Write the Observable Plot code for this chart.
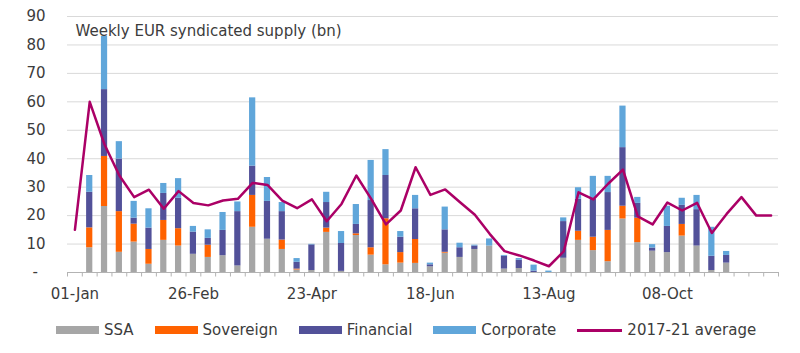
<!DOCTYPE html>
<html><head><meta charset="utf-8">
<script src="https://cdn.jsdelivr.net/npm/d3@7"></script>
<script src="https://cdn.jsdelivr.net/npm/@observablehq/plot@0.6"></script>
<style>
body{margin:0;background:#fff;font-family:"DejaVu Sans",sans-serif;}
#wrap{position:relative;width:800px;height:353px;overflow:hidden;}
#legend{position:absolute;left:56px;top:319px;height:22px;display:flex;align-items:center;font-size:15px;color:#3c3c3c;white-space:nowrap;}
.item{display:flex;align-items:center;margin-right:21px;}
.sw{width:43px;height:8px;margin-right:5px;}
.ln{width:45px;height:3px;margin-right:5px;}
</style></head><body><div id="wrap"><div id="chart"></div><div id="legend"></div></div>
<script>
const title = "Weekly EUR syndicated supply (bn)";
const weeks = ["01-Jan","08-Jan","15-Jan","22-Jan","29-Jan","05-Feb","12-Feb","19-Feb","26-Feb",
  "05-Mar","12-Mar","19-Mar","26-Mar","02-Apr","09-Apr","16-Apr","23-Apr","30-Apr",
  "07-May","14-May","21-May","28-May","04-Jun","11-Jun","18-Jun","25-Jun",
  "02-Jul","09-Jul","16-Jul","23-Jul","30-Jul","06-Aug","13-Aug","20-Aug","27-Aug",
  "03-Sep","10-Sep","17-Sep","24-Sep","01-Oct","08-Oct","15-Oct","22-Oct","29-Oct",
  "05-Nov","12-Nov","19-Nov","26-Nov"];
const xTickLabels = ["01-Jan","26-Feb","23-Apr","18-Jun","13-Aug","08-Oct"];
const yTicks = [0,10,20,30,40,50,60,70,80,90];
const series = ["SSA","Sovereign","Financial","Corporate"];
const colors = ["#A6A6A6","#FF6200","#525199","#60A6DA"];
const lineName = "2017-21 average";
const lineColor = "#AB0066";

const ssa  = [0,8.7,23.2,7.1,10.7,2.9,11.3,9.3,6.4,5.3,5.9,2.3,15.9,11.7,8.1,0.9,0.7,14.1,0.4,13.0,6.1,2.7,3.3,3.2,2.0,6.8,5.3,8.1,9.3,1.2,1.4,0,0,5.0,11.3,7.7,3.8,18.8,10.5,7.5,7.0,12.8,9.3,0.7,3.3,0,0,0];
const sov  = [0,7.0,17.6,14.3,6.3,5.2,7.0,6.1,0,4.3,0,0,11.2,0,3.3,0.3,0,1.5,0,0.6,2.6,16.2,3.7,8.4,0,0.3,0,0,0,0,0,0,0,0,3.2,4.7,11.0,4.5,8.6,0,0,4.1,0,0,0,0,0,0];
const fin  = [0,12.5,23.5,18.5,2.1,7.5,9.5,10.7,7.8,2.4,8.9,19.1,10.3,13.3,10.0,2.4,9.0,9.0,9.8,3.3,16.6,15.2,5.4,10.8,0.7,7.9,3.4,1.2,0,4.5,2.9,0.5,0,12.9,11.3,13.4,13.3,20.6,5.2,1.1,9.2,6.7,12.8,5.0,2.7,0,0,0];
const corp = [0,5.9,18.7,6.1,5.9,6.8,3.5,6.9,2.0,3.0,6.3,3.4,24.0,8.4,3.2,1.3,0.2,3.6,4.2,7.0,14.1,9.1,2.0,4.7,0.6,8.0,1.6,0.3,2.5,0.3,0.6,2.1,0.5,1.3,4.0,8.0,5.7,14.6,2.1,1.2,7.1,2.5,5.0,10.2,1.4,0,0,0];
const avg  = [15,60,45,34.1,26.5,29.1,22.4,28.6,24.4,23.6,25.3,25.9,31.5,30.8,25.3,22.6,25.7,18.0,24.1,34.1,25.9,16.9,21.8,37.0,27.3,29.2,24.7,20.3,13.6,7.5,6.0,4.2,2.2,7.4,28.2,25.7,31.2,36.2,19.7,16.9,24.6,21.8,24.5,13.9,20.6,26.5,20.0,20.0];

const seriesValues = [ssa, sov, fin, corp];
const rows = [];
series.forEach((s, k) => weeks.forEach((w, i) => {
  if (seriesValues[k][i] > 0) rows.push({week: w, series: s, value: seriesValues[k][i]});
}));

const W = 800, H = 310, mL = 67, mR = 22, mT = 16, mB = 38;
const step = (W - mL - mR) / weeks.length;
const txt = "#3c3c3c", axisCol = "#b3b3b3";

const chart = Plot.plot({
  width: W, height: H, marginLeft: mL, marginRight: mR, marginTop: mT, marginBottom: mB,
  style: {fontFamily: "DejaVu Sans", fontSize: "15px", color: txt, background: "#fff"},
  x: {domain: weeks, type: "band", paddingInner: 0.58, paddingOuter: 0.29, axis: null},
  y: {domain: [0, 90], axis: null},
  color: {domain: series, range: colors},
  marks: [
    Plot.gridY(yTicks.filter(d => d > 0), {stroke: "#d9d9d9", strokeOpacity: 1}),
    Plot.barY(rows, {x: "week", y: "value", fill: "series"}),
    Plot.ruleY([0], {stroke: axisCol}),
    Plot.ruleX(weeks, {x: d => d, y1: 0, y2: 0, insetBottom: -4.5, dx: -step / 2, stroke: axisCol}),
    Plot.ruleX([weeks[weeks.length - 1]], {x: d => d, y1: 0, y2: 0, insetBottom: -4.5, dx: step / 2, stroke: axisCol}),
    Plot.lineY(avg, {x: (d, i) => weeks[i], y: d => d, stroke: lineColor, strokeWidth: 2.5, strokeLinejoin: "round"}),
    Plot.axisY(yTicks, {tickSize: 0, tickPadding: 22, label: null, tickFormat: d => d === 0 ? "-\u2002" : String(d), fill: txt}),
    Plot.axisX(xTickLabels, {tickSize: 0, tickPadding: 16, label: null, fill: txt}),
    Plot.text([title], {text: d => d, frameAnchor: "top-left", textAnchor: "start", lineAnchor: "top", dx: 8, dy: 8.4, fill: txt})
  ]
});
document.getElementById("chart").appendChild(chart);

const legend = document.getElementById("legend");
series.forEach((s, k) => {
  const it = document.createElement("div"); it.className = "item";
  it.innerHTML = `<div class="sw" style="background:${colors[k]}"></div><span>${s}</span>`;
  legend.appendChild(it);
});
const li = document.createElement("div"); li.className = "item";
li.innerHTML = `<div class="ln" style="background:${lineColor}"></div><span>${lineName}</span>`;
legend.appendChild(li);
</script>
</body></html>
